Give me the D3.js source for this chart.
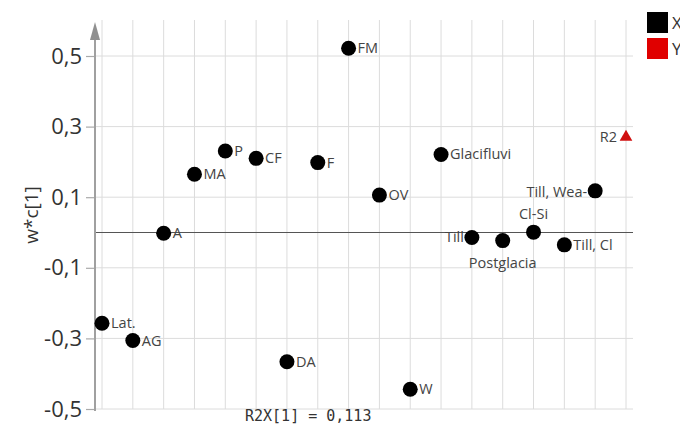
<!DOCTYPE html>
<html>
<head>
<meta charset="utf-8">
<script src="https://cdn.jsdelivr.net/npm/d3@7"></script>
<style>
  body { margin: 0; background: #fff; }
  svg { display: block; }
</style>
</head>
<body>
<svg id="chart" width="680" height="427"></svg>
<script>
// X block loadings (w*c[1]) and the Y response
const xVars = ['Lat.', 'AG', 'A', 'MA', 'P', 'CF', 'DA', 'F', 'FM', 'OV', 'W',
  'Glacifluvi', 'Till', 'Postglacia', 'Cl-Si', 'Till, Cl', 'Till, Wea-'];
const xLoadings = [-0.257, -0.306, -0.002, 0.165, 0.231, 0.210, -0.366, 0.198, 0.522,
  0.106, -0.444, 0.221, -0.014, -0.023, 0.001, -0.035, 0.118];
const yVars = ['R2'];
const yLoadings = [0.273];
const yTicks = [-0.5, -0.3, -0.1, 0.1, 0.3, 0.5];
const legendItems = ['X', 'Y'];
const footnote = 'R2X[1] = 0,113';

const svg = d3.select('#chart');
const axisX = 95, plotRight = 633, plotTop = 20, plotBottom = 409;
const sans = "'Open Sans', 'Noto Sans', sans-serif";

const x = d3.scalePoint()
  .domain(xVars.concat(yVars))
  .range([102, 626]);

const y = d3.scaleLinear()
  .domain([-0.5, 0.5])
  .range([plotBottom, 56]);

// grid
const grid = svg.append('g').attr('class', 'grid');
grid.selectAll('.vgrid')
  .data(x.domain())
  .enter().append('line')
  .attr('x1', d => x(d)).attr('x2', d => x(d))
  .attr('y1', plotTop).attr('y2', plotBottom)
  .attr('stroke', '#dcdcdc').attr('stroke-width', 1);

grid.selectAll('.hgrid')
  .data(yTicks)
  .enter().append('line')
  .attr('x1', axisX).attr('x2', plotRight)
  .attr('y1', d => y(d)).attr('y2', d => y(d))
  .attr('stroke', '#dcdcdc').attr('stroke-width', 1);

// zero line
svg.append('line')
  .attr('x1', axisX).attr('x2', plotRight)
  .attr('y1', y(0)).attr('y2', y(0))
  .attr('stroke', '#555').attr('stroke-width', 1.2);

// y axis with ticks, comma decimals and plain hyphen minus
const yAxis = d3.axisLeft(y)
  .tickValues(yTicks)
  .tickSize(9)
  .tickPadding(4)
  .tickFormat(d => d3.format('.1f')(d).replace('.', ',').replace('\u2212', '-'));

const axisG = svg.append('g')
  .attr('transform', `translate(${axisX},0)`)
  .call(yAxis);
axisG.select('.domain').remove();
axisG.selectAll('.tick line').attr('stroke', '#aaa').attr('stroke-width', 1.2);
axisG.selectAll('.tick text')
  .attr('fill', '#333')
  .attr('font-family', sans)
  .attr('font-size', 22);

svg.append('line')
  .attr('x1', axisX).attr('x2', axisX)
  .attr('y1', plotBottom + 2).attr('y2', 36)
  .attr('stroke', '#a0a0a0').attr('stroke-width', 2);
svg.append('path')
  .attr('d', `M${axisX},22 L${axisX - 5},40 L${axisX + 5},40 Z`)
  .attr('fill', '#909090');

// axis title
svg.append('text')
  .attr('transform', 'translate(38,215) rotate(-90)')
  .attr('text-anchor', 'middle')
  .attr('font-family', sans)
  .attr('font-size', 19)
  .attr('fill', '#333')
  .text('w*c[1]');

// label placement per variable
const place = {
  'Till': { dx: -8, dy: 5, anchor: 'end' },
  'Postglacia': { dx: 0, dy: 27, anchor: 'middle' },
  'Cl-Si': { dx: 0, dy: -13, anchor: 'middle' },
  'Till, Wea-': { dx: -8, dy: 6, anchor: 'end' },
  'R2': { dx: -9, dy: 6, anchor: 'end' }
};
const labelOf = d => place[d.name] || { dx: 9, dy: 5, anchor: 'start' };

const xPoints = xVars.map((name, i) => ({ name, value: xLoadings[i] }));
const yPoints = yVars.map((name, i) => ({ name, value: yLoadings[i] }));

const pts = svg.append('g').attr('class', 'points');
pts.selectAll('circle')
  .data(xPoints)
  .enter().append('circle')
  .attr('cx', d => x(d.name))
  .attr('cy', d => y(d.value))
  .attr('r', 7.5)
  .attr('fill', '#000');

pts.selectAll('path')
  .data(yPoints)
  .enter().append('path')
  .attr('d', d3.symbol().type(d3.symbolTriangle).size(70))
  .attr('transform', d => `translate(${x(d.name)},${y(d.value) + 1})`)
  .attr('fill', '#d01010');

pts.selectAll('text')
  .data(xPoints.concat(yPoints))
  .enter().append('text')
  .attr('x', d => x(d.name) + labelOf(d).dx)
  .attr('y', d => y(d.value) + labelOf(d).dy)
  .attr('text-anchor', d => labelOf(d).anchor)
  .attr('font-family', sans)
  .attr('font-size', 14.5)
  .attr('fill', '#444')
  .text(d => d.name);

// footnote
svg.append('text')
  .attr('x', 245).attr('y', 421)
  .attr('font-family', "'DejaVu Sans Mono', monospace")
  .attr('font-size', 15)
  .attr('fill', '#333')
  .text(footnote);

// legend (cut by the right edge, as in the source picture)
const legendColor = d3.scaleOrdinal().domain(legendItems).range(['#000', '#e00000']);
const lg = svg.append('g').selectAll('g')
  .data(legendItems)
  .enter().append('g')
  .attr('transform', (d, i) => `translate(647,${12 + i * 26})`);
lg.append('rect')
  .attr('width', 21).attr('height', 21)
  .attr('fill', d => legendColor(d));
lg.append('text')
  .attr('x', 25).attr('y', 17)
  .attr('font-family', sans)
  .attr('font-size', 17)
  .attr('fill', '#333')
  .text(d => d);
</script>
</body>
</html>
